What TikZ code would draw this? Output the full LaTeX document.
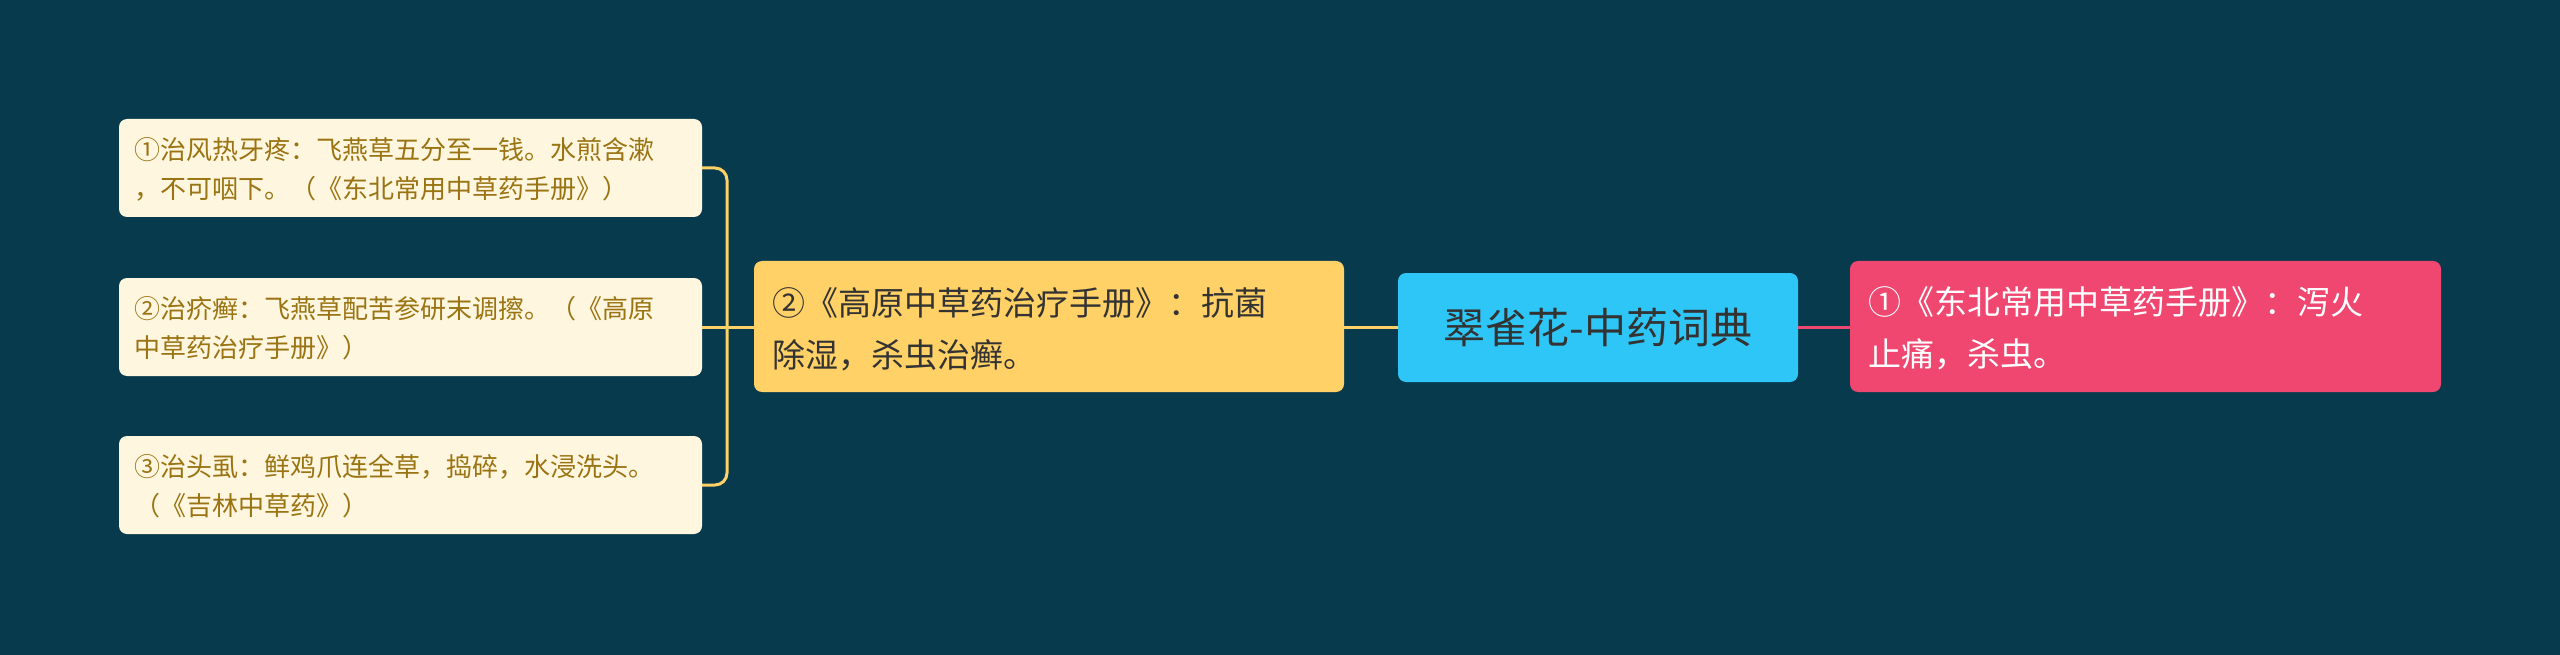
\documentclass[tikz,border=0pt]{standalone}
\usepackage{fontspec}
\setmainfont{Noto Sans CJK SC}
\definecolor{bg}{HTML}{073A4D}
\definecolor{leaf}{HTML}{FFF6DF}
\definecolor{leaftxt}{HTML}{9A7412}
\definecolor{mid}{HTML}{FFD166}
\definecolor{rootc}{HTML}{2EC6F6}
\definecolor{rightc}{HTML}{EF4770}
\begin{document}
\begin{tikzpicture}[x=1pt,y=-1pt,
  box/.style={rounded corners=8pt,anchor=north west,align=left,inner sep=0pt,text depth=0pt},
  leafbox/.style={box,fill=leaf,text=leaftxt,font=\fontsize{26}{39}\selectfont},
  conn/.style={line width=3pt}]
\fill[bg] (0,0) rectangle (2560,655);
\useasboundingbox (0,0) rectangle (2560,655);
% boxes
\fill[leaf,rounded corners=8pt] (119,119) rectangle (702,217);
\node[leafbox,fill=none,anchor=west] (l1) at (134,168) {①治风热牙疼：飞燕草五分至一钱。水煎含漱\\，不可咽下。（《东北常用中草药手册》）};
\fill[leaf,rounded corners=8pt] (119,278) rectangle (702,376);
\node[leafbox,fill=none,anchor=west] (l2) at (134,327) {②治疥癣：飞燕草配苦参研末调擦。（《高原\\中草药治疗手册》）};
\fill[leaf,rounded corners=8pt] (119,436) rectangle (702,534);
\node[leafbox,fill=none,anchor=west] (l3) at (134,485) {③治头虱：鲜鸡爪连全草，捣碎，水浸洗头。\\（《吉林中草药》）};
\coordinate (l1e) at (702,168);
\coordinate (l2e) at (702,327);
\coordinate (l3e) at (702,485);
\fill[mid,rounded corners=8pt] (754,261) rectangle (1344,392);
\node[box,anchor=west,font=\fontsize{33}{52}\selectfont,text=black!80] (m) at (772,327) {②《高原中草药治疗手册》：抗菌\\除湿，杀虫治癣。};
\coordinate (mw) at (754,327);
\coordinate (me) at (1344,327);
\fill[rootc,rounded corners=8pt] (1398,273) rectangle (1798,382);
\node[font=\fontsize{42}{50}\selectfont,text=black!80,inner sep=0pt] (r) at (1598,327) {翠雀花-中药词典};
\coordinate (rw) at (1398,327);
\coordinate (re) at (1798,327);
\fill[rightc,rounded corners=8pt] (1850,261) rectangle (2441,392);
\node[box,anchor=west,font=\fontsize{33}{52}\selectfont,text=white] (p) at (1868,327) {①《东北常用中草药手册》：泻火\\止痛，杀虫。};
\coordinate (pw) at (1850,327);
% connectors
\draw[conn,mid] (rw) -- (me);
\draw[conn,rightc] (re) -- (pw);
\draw[conn,mid] (mw) -- (l2e);
\draw[conn,mid,rounded corners=12pt] (l1e) -- (727,168) -- (727,485) -- (l3e);
\end{tikzpicture}
\end{document}
